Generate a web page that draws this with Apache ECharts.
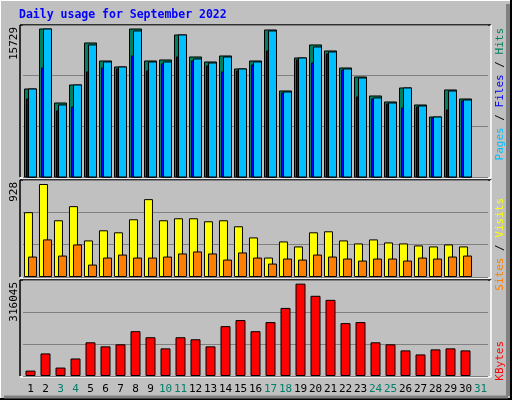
<!DOCTYPE html>
<html><head><meta charset="utf-8">
<script src="https://cdn.jsdelivr.net/npm/echarts@6/dist/echarts.min.js"></script>
<style>html,body{margin:0;padding:0;background:#c0c0c0}#c{width:512px;height:400px}</style>
</head><body><div id="c"></div>
<script>
const days = ['1','2','3','4','5','6','7','8','9','10','11','12','13','14','15','16','17','18','19','20','21','22','23','24','25','26','27','28','29','30','31'];
const weekend = [3,4,10,11,17,18,24,25,31];
const hits  = [9354,15729,7866,9780,14244,12331,11693,15729,12331,12437,15095,12756,12225,12862,11480,12331,15626,9142,12650,14032,13394,11587,10630,8610,7973,9461,7654,6378,9248,8291];
const files = [9354,15729,7654,9780,14032,12225,11693,15520,12225,12225,15095,12543,12118,12756,11480,12225,15520,9035,12650,13819,13288,11480,10524,8398,7866,9461,7547,6378,9142,8185];
const pages = [8291,11587,7016,7441,11162,11587,11480,12862,11268,12012,12756,12331,11799,11162,11268,11906,13394,8929,12437,12118,13075,11374,8504,8291,7760,7335,7441,6272,7122,8079];
const visits = [647,928,566,707,365,466,446,576,777,566,586,586,556,566,506,395,194,355,305,446,456,365,335,375,345,335,315,305,325,305];
const sites  = [204,375,214,325,124,194,224,194,194,204,235,255,235,174,245,194,134,184,174,224,204,184,164,184,184,164,194,184,204,214];
const kbytes = [18450,77250,28830,59960,115300,101460,108380,153350,132600,94550,132600,125680,101460,170640,191400,153350,184480,232910,316045,274410,260580,181020,184480,115300,108380,87630,73790,91090,94550,87630];
const maxLabels = ['15729','928','316045'];

const chart = echarts.init(document.getElementById('c'));
const M1 = 15729*152/148, M2 = 928*97/93, M3 = 316045*95/91.4;
const grids = [{left:23,width:465,top:25,height:152},{left:23,width:465,top:180,height:97},{left:23,width:465,top:280,height:96}];
function yAx(i,M){return {gridIndex:i,min:0,max:M,interval:M/3,axisLabel:{show:false},axisLine:{show:false},axisTick:{show:false},splitLine:{lineStyle:{color:'#808080',width:1}}};}
function xAx(i,show){return {gridIndex:i,type:'category',data:days,axisLine:{show:false},axisTick:{show:false},
  axisLabel:{show:show,margin:8,fontFamily:'DejaVu Sans Mono',fontSize:11,interval:0,
   color:function(v){return weekend.indexOf(+v)>=0?'#00806a':'#000';}}};}
function rectAt(api,idx,val,x0,x1,color,params){
  const p = api.coord([idx,val]); const b = api.coord([idx,0]);
  return {type:'rect',shape:{x:p[0]+x0,y:p[1],width:x1-x0,height:b[1]-p[1]},style:{fill:color,stroke:'#000',lineWidth:1}};
}
const frames = grids.map(g=>({type:'group',children:[
  {type:'line',shape:{x1:20,y1:g.top,x2:491,y2:g.top},style:{stroke:'#000',lineWidth:1.5}},
  {type:'line',shape:{x1:20,y1:g.top,x2:20,y2:g.top+g.height},style:{stroke:'#000',lineWidth:1.5}},
  {type:'line',shape:{x1:491,y1:g.top,x2:491,y2:g.top+g.height+1},style:{stroke:'#fff',lineWidth:1.5}},
  {type:'line',shape:{x1:20,y1:g.top+g.height+1,x2:491,y2:g.top+g.height+1},style:{stroke:'#fff',lineWidth:1.5}}
]}));
const mono = 'DejaVu Sans Mono';
chart.setOption({
  animation:false,
  backgroundColor:'#c0c0c0',
  grid:grids,
  xAxis:[xAx(0,false),xAx(1,false),xAx(2,true)],
  yAxis:[yAx(0,M1),yAx(1,M2),yAx(2,M3)],
  series:[
    {type:'custom',xAxisIndex:0,yAxisIndex:0,data:hits.map((h,i)=>[i,h,files[i],pages[i]]),
     renderItem:function(params,api){
       const i=api.value(0);
       return {type:'group',children:[
         rectAt(api,i,api.value(1),-6,6,'#00805f'),
         rectAt(api,i,api.value(3),-4,6,'#0000ff'),
         rectAt(api,i,api.value(2),-2,6,'#00bfff')]};
     }},
    {type:'bar',xAxisIndex:1,yAxisIndex:1,data:visits,barWidth:9,barGap:'-55%',itemStyle:{color:'#ffff00',borderColor:'#000',borderWidth:1}},
    {type:'bar',xAxisIndex:1,yAxisIndex:1,data:sites,barWidth:9,itemStyle:{color:'#ff8000',borderColor:'#000',borderWidth:1}},
    {type:'bar',xAxisIndex:2,yAxisIndex:2,data:kbytes,barWidth:10,itemStyle:{color:'#ff0000',borderColor:'#000',borderWidth:1}}
  ],
  graphic:[
    {type:'rect',shape:{x:0.5,y:0.5,width:510,height:398},style:{fill:'none',stroke:'#fff',lineWidth:1}},
    {type:'line',shape:{x1:511,y1:0,x2:511,y2:400},style:{stroke:'#000',lineWidth:2}},
    {type:'line',shape:{x1:0,y1:399,x2:512,y2:399},style:{stroke:'#000',lineWidth:2}},
    {type:'line',shape:{x1:508,y1:4,x2:508,y2:396},style:{stroke:'#808080',lineWidth:4}},
    {type:'line',shape:{x1:4,y1:397,x2:508,y2:397},style:{stroke:'#808080',lineWidth:3}},
    {type:'text',left:19,top:9,style:{text:'Daily usage for September 2022',fill:'#0000ff',font:'bold 11.5px "DejaVu Sans Mono"'}},
    ...frames,
    {type:'text',x:9,y:27,rotation:Math.PI/2,style:{text:maxLabels[0],fill:'#000',font:'11px "DejaVu Sans Mono"',align:'right',verticalAlign:'top'}},
    {type:'text',x:9,y:182,rotation:Math.PI/2,style:{text:maxLabels[1],fill:'#000',font:'11px "DejaVu Sans Mono"',align:'right',verticalAlign:'top'}},
    {type:'text',x:9,y:282,rotation:Math.PI/2,style:{text:maxLabels[2],fill:'#000',font:'11px "DejaVu Sans Mono"',align:'right',verticalAlign:'top'}},
    {type:'text',x:495,y:28,rotation:Math.PI/2,style:{text:'{a|Pages}{s| / }{b|Files}{s| / }{c|Hits}',align:'right',verticalAlign:'top',font:'11px "DejaVu Sans Mono"',
      rich:{a:{fill:'#00bfff',font:'11px "DejaVu Sans Mono"'},s:{fill:'#000',font:'11px "DejaVu Sans Mono"'},b:{fill:'#0000ff',font:'11px "DejaVu Sans Mono"'},c:{fill:'#00805f',font:'11px "DejaVu Sans Mono"'}}}},
    {type:'text',x:495,y:198,rotation:Math.PI/2,style:{text:'{a|Sites}{s| / }{b|Visits}',align:'right',verticalAlign:'top',font:'11px "DejaVu Sans Mono"',
      rich:{a:{fill:'#ff8000',font:'11px "DejaVu Sans Mono"'},s:{fill:'#000',font:'11px "DejaVu Sans Mono"'},b:{fill:'#ffff00',font:'11px "DejaVu Sans Mono"'}}}},
    {type:'text',x:495,y:341,rotation:Math.PI/2,style:{text:'KBytes',fill:'#ff0000',align:'right',verticalAlign:'top',font:'11px "DejaVu Sans Mono"'}}
  ]
});
</script></body></html>
